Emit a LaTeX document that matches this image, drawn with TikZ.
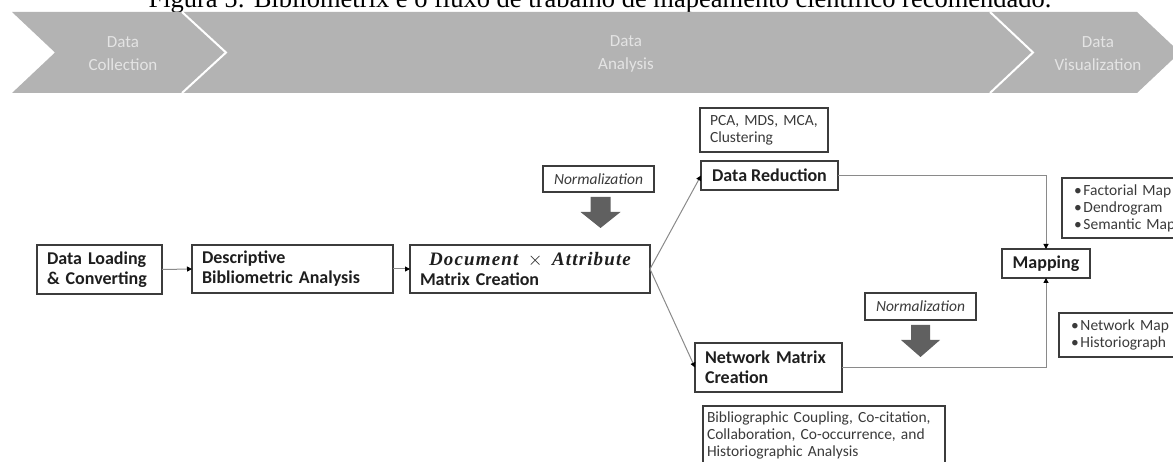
\RequirePackage{fix-cm}
\documentclass[tikz,border=0pt]{standalone}
\usepackage{fontspec}
\setmainfont{Carlito}
\newfontfamily\capfont{Liberation Serif}
\newfontfamily\docfont{Liberation Serif}[LetterSpace=6]
\usetikzlibrary{arrows.meta}
\definecolor{banc}{HTML}{B3B3B3}
\definecolor{bantx}{HTML}{E4E4E4}
\definecolor{bordc}{HTML}{3C3C3C}
\definecolor{txtc}{HTML}{1E1E1E}
\definecolor{smc}{HTML}{3A3A3A}
\definecolor{linec}{HTML}{8A8A8A}
\definecolor{garc}{HTML}{606060}
\newcommand{\bul}{\makebox[9.5pt][l]{\textbullet}}
\tikzset{
  x={(1pt,0)}, y={(0,-1pt)},
  boxb/.style={draw=bordc, line width=1.5pt, outer sep=0pt, inner ysep=0pt,
    anchor=north west, align=left, text=txtc,
    font=\fontsize{18}{20}\selectfont\bfseries},
  boxs/.style={draw=bordc, line width=1.5pt, outer sep=0pt, inner ysep=0pt,
    anchor=north west, align=left, text=smc,
    font=\fontsize{15.5}{17}\selectfont},
  normbox/.style={boxs, font=\fontsize{15.5}{17}\selectfont\itshape, text=smc},
  bantext/.style={align=center, text=bantx, inner sep=0pt,
    font=\fontsize{17}{23}\selectfont},
  conn/.style={draw=linec, line width=1pt,
    -{Triangle[length=5pt,width=5pt,color=black]}},
  bigarrow/.style={fill=garc},
}
\begin{document}
\begin{tikzpicture}
\useasboundingbox (0,0) rectangle (1173,462);
% caption (cut at top)
\node[font=\capfont\fontsize{26.5}{30}\selectfont, anchor=base, inner sep=0pt] (cap) at (600,7.5)
  {Figura 5: Bibliometrix e o fluxo de trabalho de mapeamento científico recomendado.};
% banner
\fill[banc] (12,12) -- (1137,12) -- (1180,52.5) -- (1137,93) -- (12,93) -- (55,52.5) -- cycle;
\draw[white, line width=2pt] (182,12) -- (226,52.5) -- (182,93);
\draw[white, line width=2pt] (990,12) -- (1033,52.5) -- (990,93);
\node[bantext] (b1) at (123,53.5) {Data\\Collection};
\node[bantext] (b2) at (626,53.5) {Data\\Analysis};
\node[bantext] (b3) at (1098,53.5) {Data\\Visualization};
% main boxes
\node[boxb, inner xsep=10pt, text width=105pt, minimum height=49pt] (load) at (37,245)
  {Data Loading\\\& Converting};
\node[boxb, inner xsep=10pt, text width=181pt, minimum height=48pt] (desc) at (192,245)
  {Descriptive\\Bibliometric Analysis};
\node[boxb, inner xsep=10pt, text width=220pt, minimum height=48pt] (doc) at (410,245)
  {\makebox[220pt][c]{\fontsize{19}{20}\selectfont{\docfont\bfseries\itshape Document}\enspace$\times$\enspace{\docfont\bfseries\itshape Attribute}}\\Matrix Creation};
\node[normbox, minimum width=111pt, minimum height=26pt, align=center] (norm1) at (543,166) {Normalization};
\node[boxs, inner xsep=10pt, text width=108pt, minimum height=44pt] (pca) at (700,108)
  {PCA, MDS, MCA,\\Clustering};
\node[boxb, minimum width=137pt, minimum height=29pt, align=center] (dr) at (701,161) {Data Reduction};
\node[boxb, inner xsep=10pt, text width=127pt, minimum height=49pt] (nmc) at (695,343)
  {Network Matrix\\Creation};
\node[boxs, inner xsep=4pt, inner ysep=6pt, text width=234pt] (bib) at (703,406)
  {Bibliographic Coupling, Co-citation,\\Collaboration, Co-occurrence, and\\Historiographic Analysis};
\node[normbox, minimum width=111pt, minimum height=27pt, align=center] (norm2) at (865,293) {Normalization};
\node[boxb, minimum width=88pt, minimum height=29pt, align=center] (map) at (1002,249) {Mapping};
\node[boxs, inner xsep=12pt, text width=112pt, minimum height=60pt] (fact) at (1062,178)
  {\bul Factorial Map\\\bul Dendrogram\\\bul Semantic Map};
\node[boxs, inner xsep=12pt, text width=112pt, minimum height=44pt] (netm) at (1059,313)
  {\bul Network Map\\\bul Historiograph};
% big gray arrows
\fill[bigarrow] (590.5,197) -- (610.5,197) -- (610.5,212) -- (620.5,212) -- (600.5,228)
  -- (580.5,212) -- (590.5,212) -- cycle;
\fill[bigarrow] (911,325) -- (930,325) -- (930,340) -- (940,340) -- (920.5,357)
  -- (901,340) -- (911,340) -- cycle;
% connectors
\draw[conn] (load.east) -- (desc.west);
\draw[conn] (desc.east) -- (doc.west);
\draw[conn] (doc.east) -- (dr.west);
\draw[conn] (doc.east) -- (nmc.west);
\draw[conn] (dr.east) -| (map.north);
\draw[conn] (nmc.east) -| (map.south);
\end{tikzpicture}
\end{document}
